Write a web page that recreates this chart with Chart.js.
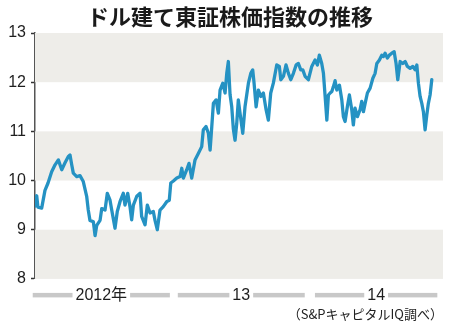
<!DOCTYPE html>
<html>
<head>
<meta charset="utf-8">
<script src="https://cdn.jsdelivr.net/npm/chart.js@4/dist/chart.umd.min.js"></script>
<style>
  html, body { margin: 0; padding: 0; background: #ffffff; }
  #wrap { position: relative; width: 450px; height: 327px; }
  canvas { display: block; position: absolute; left: 0; top: 0; }
  #title {
    position: absolute; left: 0; top: 0; width: 460px; height: 30px;
    line-height: 30px; text-align: center; margin: 0;
    font-family: "Noto Sans CJK JP", sans-serif; font-size: 22px; font-weight: bold;
    color: #1a1a1a; z-index: 2;
  }
</style>
</head>
<body>
<div id="wrap">
  <canvas id="c" width="450" height="327"></canvas>
  <h1 id="title">ドル建て東証株価指数の推移</h1>
</div>
<script>
// Months since January 2012
const months = [
  0.00,0.15,0.26,0.59,0.88,1.15,1.47,1.77,2.06,2.36,
  2.65,2.94,3.09,3.24,3.38,3.68,3.97,4.26,4.56,4.70,
  4.85,5.15,5.30,5.45,5.74,5.89,6.18,6.38,6.62,6.77,
  7.06,7.26,7.50,7.79,7.94,8.18,8.38,8.53,8.68,8.98,
  9.27,
  9.41,9.71,9.91,10.15,10.44,10.59,10.79,11.03,11.32,11.62,
  11.85,11.98,12.21,12.51,12.80,12.95,13.09,13.39,13.59,13.83,
  14.12,14.41,14.71,14.85,15.09,15.30,15.45,15.60,15.74,15.98,
  16.18,16.33,16.57,16.77,16.92,17.06,
  17.21,17.36,17.50,17.65,17.80,17.94,18.09,18.33,18.53,18.83,
  19.04,19.21,19.33,19.51,19.71,19.92,20.15,20.39,20.59,20.80,
  21.03,21.33,21.56,21.69,21.92,22.15,22.36,22.57,22.80,23.04,
  23.24,23.45,23.63,23.83,24.12,24.42,24.71,24.92,25.09,25.30,
  25.45,25.60,25.75,25.89,
  26.04,26.19,26.33,26.48,26.63,26.86,27.07,27.21,27.36,27.56,
  27.74,27.95,28.09,28.24,28.45,28.68,28.83,28.98,29.13,29.33,
  29.57,29.81,30.01,30.16,30.39,30.60,30.74,30.89,31.09,31.27,
  31.48,31.69,31.86,32.01,32.22,32.45,32.66,32.86,33.10,33.34,
  33.54,33.69,33.83,33.98,34.13,34.27,34.42,34.57,34.71,34.86,
  35.01
];
// TOPIX in US dollars
const topixUsd = [
  9.48,9.69,9.46,9.44,9.80,9.95,10.18,10.32,10.42,10.22,
  10.36,10.49,10.52,10.32,10.15,10.08,10.10,9.98,9.68,9.40,
  9.19,9.16,8.88,9.09,9.19,9.43,9.40,9.74,9.60,9.40,
  9.03,9.37,9.57,9.74,9.50,9.74,9.47,9.20,9.50,9.68,
  9.74,
  9.27,9.10,9.50,9.34,9.37,9.19,9.00,9.40,9.47,9.57,
  9.60,9.95,9.99,10.05,10.08,10.25,10.05,10.22,10.35,10.05,
  10.42,10.55,10.69,11.03,11.10,10.96,10.62,11.10,11.57,11.64,
  11.37,11.84,11.98,11.78,12.18,12.42,
  11.75,11.50,11.05,10.82,11.16,11.64,11.37,10.96,11.50,11.98,
  12.18,12.25,11.98,11.50,11.84,11.71,11.78,11.44,11.23,11.78,
  11.98,12.35,12.32,12.05,12.12,12.35,12.18,12.05,12.18,12.35,
  12.38,12.25,12.25,12.12,12.05,12.32,12.45,12.35,12.55,12.38,
  12.18,11.71,11.23,11.74,
  11.78,11.81,11.91,12.03,11.84,11.94,11.64,11.30,11.20,11.50,
  11.74,11.44,11.13,11.47,11.30,11.44,11.61,11.40,11.57,11.78,
  11.88,12.08,12.18,12.38,12.45,12.55,12.52,12.59,12.49,12.55,
  12.59,12.62,12.38,12.05,12.42,12.38,12.42,12.32,12.28,12.32,
  12.25,12.35,11.98,11.71,11.57,11.40,11.03,11.33,11.57,11.74,
  12.05
];
// Year labels and their spans (months since Jan 2012)
const yearLabels = ['2012年', '13', '14'];
const yearStart = [-0.2, 12.6, 24.7];
const yearEnd = [11.9, 23.8, 35.5];
// Shaded value bands
const bandLow = [12, 10, 8];
const bandHigh = [13, 11, 9];

const sourceText = '（S&PキャピタルIQ調べ）';

const bandPlugin = {
  id: 'bands',
  beforeDatasetsDraw(chart) {
    const {ctx, chartArea, scales} = chart;
    const y = scales.y;
    ctx.save();
    ctx.fillStyle = '#eeede9';
    for (let i = 0; i < bandLow.length; i++) {
      const top = y.getPixelForValue(bandHigh[i]);
      const bot = y.getPixelForValue(bandLow[i]);
      ctx.fillRect(chartArea.left, top, chartArea.right - chartArea.left, bot - top);
    }
    ctx.restore();
  }
};

const yearPlugin = {
  id: 'yearBars',
  afterDraw(chart) {
    const {ctx, scales} = chart;
    const x = scales.x;
    const yc = x.top + 16;
    ctx.save();
    ctx.font = '16px "Liberation Sans", "Noto Sans CJK JP", sans-serif';
    ctx.textAlign = 'center';
    ctx.textBaseline = 'middle';
    for (let i = 0; i < yearLabels.length; i++) {
      const xs = x.getPixelForValue(yearStart[i]);
      const xe = x.getPixelForValue(yearEnd[i]);
      const mid = (xs + xe) / 2;
      const w = ctx.measureText(yearLabels[i]).width;
      const gap = 3;
      ctx.fillStyle = '#c8c8c8';
      ctx.fillRect(xs, yc - 2, (mid - w / 2 - gap) - xs, 4.5);
      ctx.fillRect(mid + w / 2 + gap, yc - 2, xe - (mid + w / 2 + gap), 4.5);
      ctx.fillStyle = '#1e1e1e';
      ctx.fillText(yearLabels[i], mid, yc + 1);
    }
    ctx.restore();
  }
};

new Chart(document.getElementById('c'), {
  type: 'line',
  data: {
    datasets: [{
      data: months.map((m, i) => ({x: m, y: topixUsd[i]})),
      borderColor: '#2592c3',
      borderWidth: 3.3,
      pointRadius: 0,
      tension: 0,
      borderJoinStyle: 'round',
      borderCapStyle: 'round',
      fill: false
    }]
  },
  options: {
    responsive: false,
    animation: false,
    devicePixelRatio: 1,
    layout: { padding: { left: 0, right: 7, top: 33, bottom: 0 } },
    plugins: {
      legend: { display: false },
      tooltip: { enabled: false },
      title: { display: false },
      subtitle: {
        display: true,
        position: 'bottom',
        align: 'end',
        text: sourceText,
        color: '#222222',
        font: { family: '"Noto Sans CJK JP", sans-serif', size: 13, lineHeight: 1.2 },
        padding: { top: 0, bottom: 5.5 }
      }
    },
    scales: {
      x: {
        type: 'linear',
        min: 0,
        max: 36,
        grid: { display: false },
        border: { display: false },
        ticks: { display: false },
        afterFit(s) { s.height = 27; }
      },
      y: {
        min: 8,
        max: 13,
        ticks: {
          stepSize: 1,
          color: '#1e1e1e',
          padding: 5,
          font: { family: '"Liberation Sans", Arial, sans-serif', size: 16 }
        },
        grid: { drawOnChartArea: false, tickLength: 4, tickColor: '#333333', tickWidth: 1.5 },
        border: { display: true, color: '#555555', width: 1.5 },
        afterFit(s) { s.width = 35; }
      }
    }
  },
  plugins: [bandPlugin, yearPlugin]
});
</script>
</body>
</html>
